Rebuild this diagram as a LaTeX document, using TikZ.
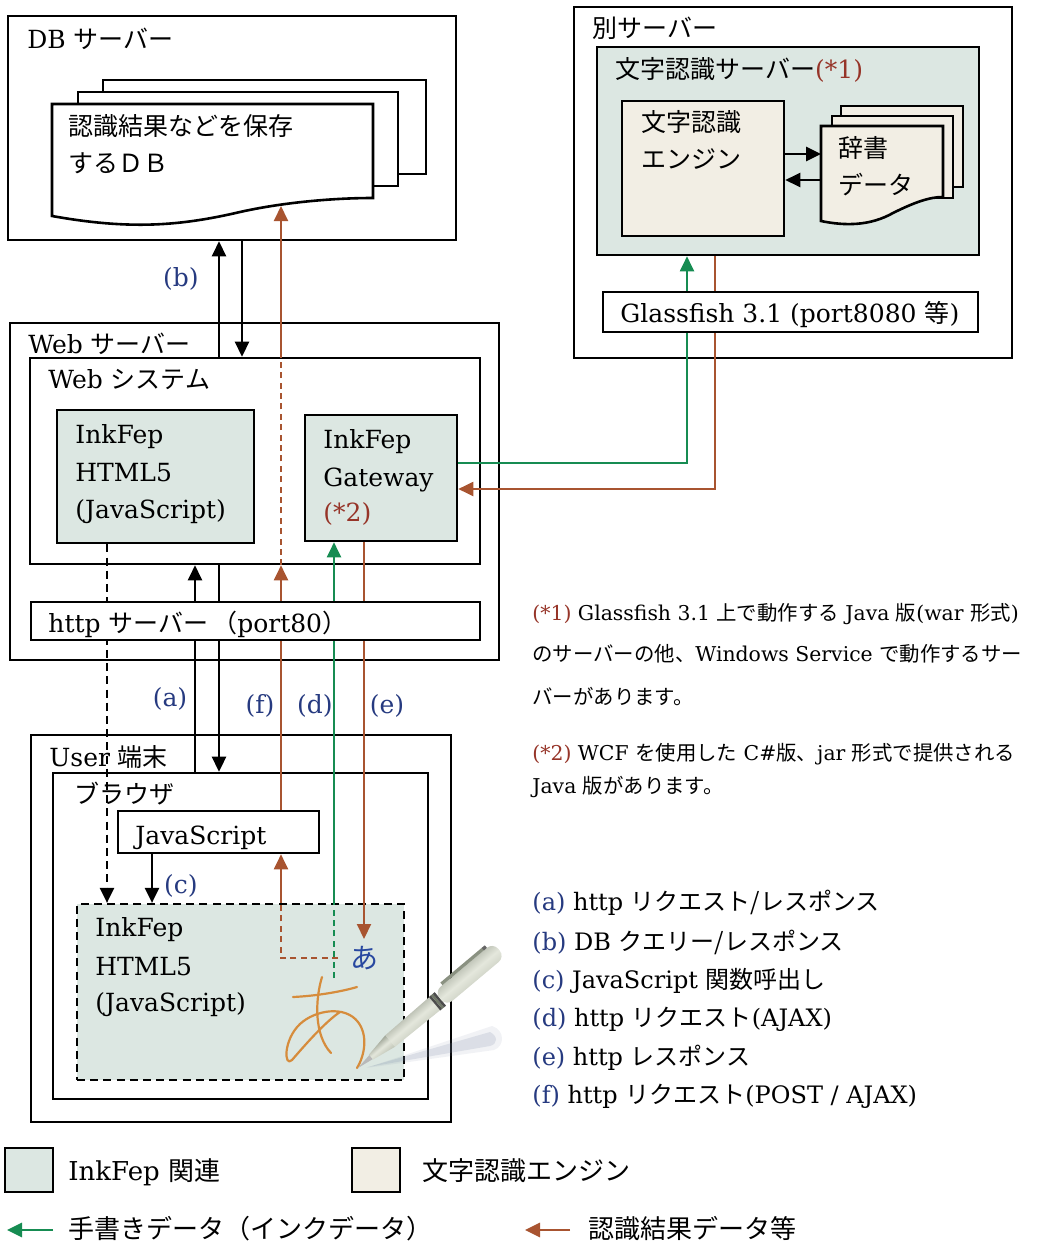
\documentclass[tikz,border=0pt]{standalone}
\usepackage{fontspec}
\setmainfont{DejaVu Serif}
\newfontfamily\jpfont{Noto Sans CJK JP}
\usetikzlibrary{arrows.meta,fit,calc}

\newcommand\jtxt[1]{{\jpfont #1}}
\newcommand\dfont{\fontsize{12.5}{15}\selectfont}
\newcommand\nfont{\fontsize{10.2}{13}\selectfont}
\newcommand\lfont{\fontsize{12}{14}\selectfont}
\newcommand\kfont{\fontsize{13}{15}\selectfont}

\definecolor{inkfill}{RGB}{220,231,226}
\definecolor{engfill}{RGB}{242,238,228}
\definecolor{resbrown}{RGB}{168,84,48}
\definecolor{inkgreen}{RGB}{22,140,82}
\definecolor{tagblue}{RGB}{38,58,128}
\definecolor{notered}{RGB}{150,52,40}
\definecolor{handink}{RGB}{214,140,60}
\definecolor{kanablue}{RGB}{40,72,160}
\definecolor{shadowc}{RGB}{120,135,165}
\definecolor{pendark}{RGB}{112,120,104}
\definecolor{penmid}{RGB}{168,174,158}
\definecolor{penlight}{RGB}{228,231,220}

\begin{document}
\begin{tikzpicture}[x=0.5pt,y=-0.5pt,
  boxline/.style={draw=black,line width=1.3pt,inner sep=0pt},
  inkbox/.style={boxline,fill=inkfill},
  engbox/.style={boxline,fill=engfill},
  sheet/.style={draw=black,line width=1.3pt},
  lbl/.style={anchor=base west,inner sep=0pt,font=\dfont},
  notetxt/.style={anchor=base west,inner sep=0pt,font=\nfont},
  legtxt/.style={anchor=base west,inner sep=0pt,font=\lfont},
  keytxt/.style={anchor=base west,inner sep=0pt,font=\kfont},
  flowtag/.style={anchor=base,inner sep=0pt,font=\dfont,text=tagblue},
  blkline/.style={draw=black,line width=1.3pt},
  brnline/.style={draw=resbrown,line width=1pt},
  grnline/.style={draw=inkgreen,line width=1pt},
  arrowhead/.style={-{Triangle[length=7.5pt,width=7pt]}},
  longdash/.style={dash pattern=on 4pt off 2.6pt},
  shortdash/.style={dash pattern=on 3pt off 2.2pt},
  penbody/.style={top color=pendark, bottom color=penmid, middle color=penlight, shading angle=40},
]
\path[use as bounding box,fill=white] (0,0) rectangle (1063,1242);

% ---------- column / row helpers ----------
\coordinate (xA) at (195,0);
\coordinate (xAB) at (219,0);
\coordinate (xB) at (242,0);
\coordinate (xF) at (281,0);
\coordinate (xD) at (334,0);
\coordinate (xE) at (364,0);
\coordinate (xDash) at (107,0);
\coordinate (xC) at (152,0);
\coordinate (xG) at (687,0);
\coordinate (xR) at (715,0);
\coordinate (yG) at (0,463);
\coordinate (yR) at (0,489);
\coordinate (yQ) at (0,154);
\coordinate (yS) at (0,180);
\coordinate (dictL) at (821,0);

% ---------- DB server ----------
\node[boxline,fit={(8,16)(456,240)}] (dbsrv) {};
\node[lbl] (dbtitle) at (27,48) {DB \jtxt{サーバー}};
\filldraw[sheet,fill=white] (103,80) rectangle (426,174);
\filldraw[sheet,fill=white] (78,92) rectangle (398,186);
\filldraw[sheet,fill=white] (52,104) -- (373,104) -- (373,198)
  .. controls (330,198) and (280,203) .. (240,212)
  .. controls (180,226) and (130,230) .. (52,216) -- cycle;
\node[lbl] (db1) at (68,135) {\jtxt{認識結果などを保存}};
\node[lbl] (db2) at (68,172) {\jtxt{するＤＢ}};
\coordinate (dbin) at (281,206);

% ---------- separate server ----------
\node[boxline,fit={(574,7)(1012,358)}] (other) {};
\node[lbl] (othertitle) at (592,38) {\jtxt{別サーバー}};
\node[inkbox,fit={(597,47)(979,255)}] (ocr) {};
\node[lbl] (ocrtitle) at (615,78) {\jtxt{文字認識サーバー}\textcolor{notered}{(*1)}};
\node[engbox,fit={(622,101)(784,236)}] (engine) {};
\node[lbl] (eng1) at (641,131) {\jtxt{文字認識}};
\node[lbl] (eng2) at (641,168) {\jtxt{エンジン}};
\filldraw[sheet,fill=engfill] (841,106) rectangle (963,187);
\filldraw[sheet,fill=engfill] (832,116) rectangle (953,198);
\filldraw[sheet,fill=engfill] (821,126) -- (943,126) -- (943,197)
  .. controls (930,197) and (915,202) .. (893,213)
  .. controls (870,226) and (845,226) .. (821,221) -- cycle;
\node[lbl] (dict1) at (838,157) {\jtxt{辞書}};
\node[lbl] (dict2) at (838,194) {\jtxt{データ}};
\draw[blkline,arrowhead] (engine.east |- yQ) -- (dictL |- yQ);
\draw[blkline,arrowhead] (dictL |- yS) -- (engine.east |- yS);

% ---------- Web server ----------
\node[boxline,fit={(10,323)(499,660)}] (websrv) {};
\node[lbl] (webtitle) at (28,353) {Web \jtxt{サーバー}};
\node[boxline,fit={(30,358)(480,564)}] (websys) {};
\node[lbl] (systitle) at (48,388) {Web \jtxt{システム}};
\node[inkbox,fit={(57,410)(254,543)}] (html) {};
\node[lbl] (html1) at (75,443) {InkFep};
\node[lbl] (html2) at (75,481) {HTML5};
\node[lbl] (html3) at (75,518) {(JavaScript)};
\node[inkbox,fit={(305,415)(457,541)}] (gw) {};
\node[lbl] (gw1) at (323,448) {InkFep};
\node[lbl] (gw2) at (323,486) {Gateway};
\node[lbl] (gw3) at (323,521) {\textcolor{notered}{(*2)}};

% ---------- User terminal ----------
\node[boxline,fit={(31,735)(451,1122)}] (user) {};
\node[lbl] (usertitle) at (49,766) {User \jtxt{端末}};
\node[boxline,fit={(53,773)(428,1099)}] (browser) {};
\node[lbl] (brtitle) at (74,803) {\jtxt{ブラウザ}};
\node[boxline,fill=white,fit={(118,811)(319,853)}] (js) {};
\node[lbl] (jstext) at (135,844) {JavaScript};
\node[draw=black,line width=1.1pt,longdash,fill=inkfill,inner sep=0pt,fit={(77,904)(404,1080)}] (inkarea) {};
\node[lbl] (ink1) at (95,936) {InkFep};
\node[lbl] (ink2) at (95,975) {HTML5};
\node[lbl] (ink3) at (95,1011) {(JavaScript)};

% handwritten character
\begin{scope}[draw=handink,line width=1.1pt,line cap=round,line join=round]
  \draw (293,997) .. controls (315,996) and (340,992) .. (357,987);
  \draw (322,977) .. controls (315,1000) and (314,1035) .. (331,1053);
  \draw (340,1012) .. controls (325,1022) and (305,1045) .. (292,1060)
        .. controls (284,1068) and (283,1040) .. (300,1024)
        .. controls (315,1010) and (345,1005) .. (358,1022)
        .. controls (368,1035) and (365,1055) .. (357,1068);
\end{scope}
\node[font=\fontsize{14}{16}\selectfont\jpfont,text=kanablue,inner sep=0pt] (kana) at (364,958) {あ};

% pen shadow
\fill[shadowc,opacity=0.10] (366,1068) -- (492,1026) .. controls (505,1030) and (505,1046) .. (494,1050) -- cycle;
\fill[shadowc,opacity=0.18] (368,1067) -- (490,1032) .. controls (498,1036) and (498,1044) .. (490,1046) -- cycle;

% pen
\begin{scope}[shift={(358,1068)},rotate=40]
  \fill[gray!55] (0,0) -- (18,-2.8) -- (18,2.8) -- cycle;
  \shade[penbody] (17,-3.2) -- (42,-7.5) -- (42,7.5) -- (17,3.2) -- cycle;
  \shade[penbody] (42,-7.5) -- (100,-8.5) -- (100,8.5) -- (42,7.5) -- cycle;
  \fill[black!70] (100,-8.8) rectangle (102.5,8.8);
  \fill[pendark] (102.5,-8.8) rectangle (105,8.8);
  \fill[black!70] (105,-8.8) rectangle (107.5,8.8);
  \shade[penbody,rounded corners=4] (107.5,-9.2) rectangle (184,9.2);
  \shade[top color=pendark, bottom color=penmid, shading angle=40]
    (118,-12.5) -- (172,-12.5) -- (174,-9.2) -- (118,-9.2) -- cycle;
  \fill[black!60] (172,-12.5) rectangle (176,-9.2);
\end{scope}

% ---------- connectors ----------
% (b) DB query / response
\draw[blkline,arrowhead] (websys.north -| xAB) -- (dbsrv.south -| xAB);
\draw[blkline,arrowhead] (dbsrv.south -| xB) -- (websys.north -| xB);
% (a) http request / response
\draw[blkline,arrowhead] (browser.north -| xA) -- (websys.south -| xA);
\draw[blkline,arrowhead] (websys.south -| xAB) -- (browser.north -| xAB);
% (f) POST from the browser script up to the database
\draw[brnline,arrowhead] (js.north -| xF) -- (websys.south -| xF);
\draw[brnline,shortdash] (websys.south -| xF) -- (websys.north -| xF);
\draw[brnline,arrowhead] (websys.north -| xF) -- (dbin);
\coordinate (loopEnd) at (338,958);
\draw[brnline,shortdash] (loopEnd) -| (inkarea.north -| xF);
\draw[brnline,arrowhead] (inkarea.north -| xF) -- (js.south -| xF);
% (d) ink data to the gateway
\coordinate (dEnd) at (334,978);
\draw[grnline,shortdash] (dEnd) -- (inkarea.north -| xD);
\draw[grnline,arrowhead] (inkarea.north -| xD) -- (gw.south -| xD);
% (e) recognition result back to the page
\coordinate (eEnd) at (364,939);
\draw[brnline,arrowhead] (gw.south -| xE) -- (eEnd);
% page script load and (c) call
\draw[blkline,longdash,arrowhead] (html.south -| xDash) -- (inkarea.north -| xDash);
\draw[blkline,arrowhead] (js.south -| xC) -- (inkarea.north -| xC);
% gateway <-> recognition server
\draw[grnline,arrowhead] (gw.east |- yG) -| (ocr.south -| xG);
\draw[brnline,arrowhead] (ocr.south -| xR) |- (gw.east |- yR);

% boxes that the connectors pass behind
\node[boxline,fill=white,fit={(31,602)(480,640)}] (http) {};
\node[lbl] (httptext) at (48,632) {http \jtxt{サーバー}\hspace{2pt}\jtxt{（}port80\jtxt{）}};
\node[boxline,fill=white,fit={(603,292)(978,332)}] (gf) {};
\node[lbl] (gftext) at (620,322) {Glassfish 3.1 (port8080 \jtxt{等})};

% flow tags
\node[flowtag] (tb) at (181,286) {(b)};
\node[flowtag] (ta) at (170,706) {(a)};
\node[flowtag] (tf) at (260,713) {(f)};
\node[flowtag] (td) at (315,713) {(d)};
\node[flowtag] (te) at (387,713) {(e)};
\node[flowtag] (tc) at (181,893) {(c)};

% ---------- notes ----------
\node[notetxt] (n1) at (532,620) {\textcolor{notered}{(*1)} Glassfish 3.1 \jtxt{上で動作する} Java \jtxt{版}(war \jtxt{形式})};
\node[notetxt] (n2) at (532,661) {\jtxt{のサーバーの他、}Windows Service \jtxt{で動作するサー}};
\node[notetxt] (n3) at (532,704) {\jtxt{バーがあります。}};
\node[notetxt] (n4) at (532,760) {\textcolor{notered}{(*2)} WCF \jtxt{を使用した} C\#\jtxt{版、}jar \jtxt{形式で提供される}};
\node[notetxt] (n5) at (532,793) {Java \jtxt{版があります。}};

% ---------- flow legend ----------
\node[legtxt] (la) at (532,910) {\textcolor{tagblue}{(a)} http \jtxt{リクエスト/レスポンス}};
\node[legtxt] (lb) at (532,950) {\textcolor{tagblue}{(b)} DB \jtxt{クエリー/レスポンス}};
\node[legtxt] (lc) at (532,988) {\textcolor{tagblue}{(c)} JavaScript \jtxt{関数呼出し}};
\node[legtxt] (ld) at (532,1026) {\textcolor{tagblue}{(d)} http \jtxt{リクエスト}(AJAX)};
\node[legtxt] (le) at (532,1065) {\textcolor{tagblue}{(e)} http \jtxt{レスポンス}};
\node[legtxt] (lf) at (532,1103) {\textcolor{tagblue}{(f)} http \jtxt{リクエスト}(POST / AJAX)};

% ---------- key ----------
\node[inkbox,fit={(5,1148)(53,1192)}] (keyink) {};
\node[keytxt] (keyinktxt) at (68,1180) {InkFep \jtxt{関連}};
\node[engbox,fit={(352,1148)(400,1192)}] (keyeng) {};
\node[keytxt] (keyengtxt) at (422,1180) {\jtxt{文字認識エンジン}};
\coordinate (kg0) at (7,1230);
\coordinate (kg1) at (53,1230);
\draw[grnline,line width=1.4pt,arrowhead] (kg1) -- (kg0);
\node[keytxt] (keygtxt) at (68,1238) {\jtxt{手書きデータ（インクデータ）}};
\coordinate (kb0) at (525,1230);
\coordinate (kb1) at (570,1230);
\draw[brnline,line width=1.4pt,arrowhead] (kb1) -- (kb0);
\node[keytxt] (keybtxt) at (588,1238) {\jtxt{認識結果データ等}};
\end{tikzpicture}
\end{document}
